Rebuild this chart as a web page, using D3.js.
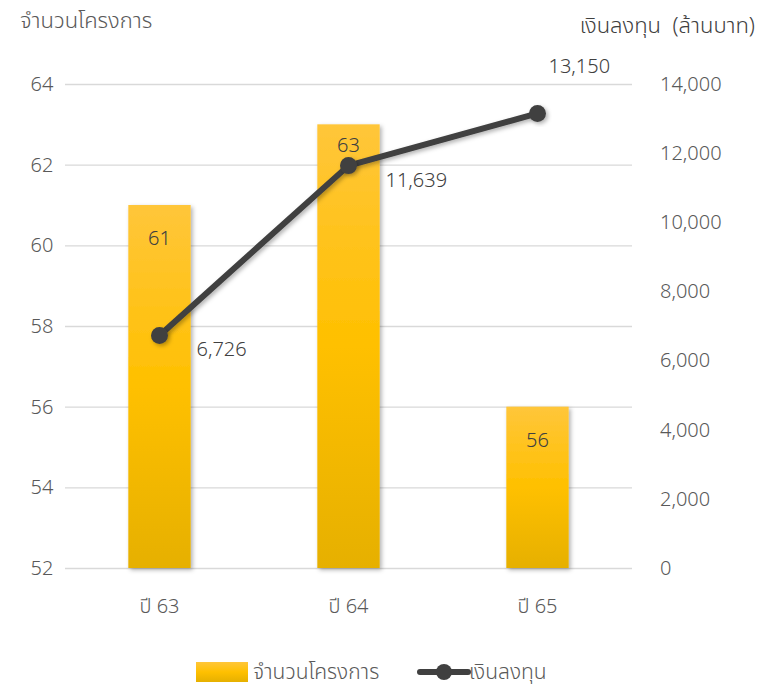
<!DOCTYPE html>
<html>
<head>
<meta charset="utf-8">
<script src="https://cdn.jsdelivr.net/npm/d3@7"></script>
<style>
  body { margin: 0; background: #fff; }
  text { font-family: "Noto Sans Thai", "Leelawadee UI", "Noto Sans", sans-serif; fill: #595959; font-weight: 300; }
</style>
</head>
<body>
<svg id="chart" width="760" height="687"></svg>
<script>
// chart data
var categories = ["ปี 63", "ปี 64", "ปี 65"],
    projects = [61, 63, 56],
    investment = [6726, 11639, 13150],
    leftTicks = [52, 54, 56, 58, 60, 62, 64],
    rightTicks = [0, 2000, 4000, 6000, 8000, 10000, 12000, 14000]
;

var svg = d3.select("#chart"),
    plotLeft = 65, plotRight = 632, plotTop = 84, plotBottom = 568,
    x = d3.scaleBand().domain(categories).range([plotLeft, plotRight]).paddingInner(0.67).paddingOuter(0.335),
    yL = d3.scaleLinear().domain([52, 64]).range([plotBottom, plotTop]),
    yR = d3.scaleLinear().domain([0, 14000]).range([plotBottom, plotTop]),
    fmt = d3.format(",")
;

var defs = svg.append("defs");
var grad = defs.append("linearGradient").attr("id", "barGrad")
    .attr("x1", 0).attr("y1", 0).attr("x2", 0).attr("y2", 1);
grad.append("stop").attr("offset", "0%").attr("stop-color", "#FFC63A");
grad.append("stop").attr("offset", "50%").attr("stop-color", "#FFC000");
grad.append("stop").attr("offset", "100%").attr("stop-color", "#E6B000");

var shadow = defs.append("filter").attr("id", "shadow")
    .attr("x", "-30%").attr("y", "-30%").attr("width", "160%").attr("height", "160%");
shadow.append("feDropShadow").attr("dx", 2).attr("dy", 2).attr("stdDeviation", 2)
    .attr("flood-color", "#000").attr("flood-opacity", 0.3);

// gridlines
svg.append("g")
    .attr("transform", "translate(" + plotLeft + ",0)")
    .call(d3.axisLeft(yL).tickValues(leftTicks).tickSize(-(plotRight - plotLeft)).tickFormat(""))
    .call(g => g.select(".domain").remove())
    .call(g => g.selectAll("line").attr("stroke", "#d9d9d9").attr("stroke-width", 1.3));

// left axis labels
svg.append("g")
    .attr("transform", "translate(" + plotLeft + ",0)")
    .call(d3.axisLeft(yL).tickValues(leftTicks).tickSize(0).tickPadding(31))
    .call(g => g.select(".domain").remove())
    .call(g => g.selectAll("text").style("font-size", "20px").attr("text-anchor", "middle").attr("dx", "8"));

// right axis labels
svg.append("g")
    .attr("transform", "translate(" + plotRight + ",0)")
    .call(d3.axisRight(yR).tickValues(rightTicks).tickSize(0).tickPadding(28).tickFormat(fmt))
    .call(g => g.select(".domain").remove())
    .call(g => g.selectAll("text").style("font-size", "20px"));

// category axis
svg.append("g")
    .attr("transform", "translate(0," + plotBottom + ")")
    .call(d3.axisBottom(x).tickSize(0).tickPadding(31))
    .call(g => g.select(".domain").remove())
    .call(g => g.selectAll("text").style("font-size", "20px"));

// axis titles
svg.append("text").attr("x", 20).attr("y", 28).style("font-size", "22px").text("จำนวนโครงการ");
svg.append("text").attr("x", 755).attr("y", 33).attr("text-anchor", "end")
    .style("font-size", "22px").style("fill", "#404040").style("white-space", "pre")
    .text("เงินลงทุน  (ล้านบาท)");

// bars
svg.selectAll(".bar")
    .data(projects)
    .enter().append("rect")
    .attr("class", "bar")
    .attr("x", (d, i) => x(categories[i]))
    .attr("y", d => yL(d))
    .attr("width", x.bandwidth())
    .attr("height", d => plotBottom - yL(d))
    .attr("fill", "url(#barGrad)")
    .attr("filter", "url(#shadow)");

// bar label goes inside the top, unless the line point is in the way
function barLabelY(d, i) {
    var ly = yL(d) + 40, py = yR(investment[i]);
    return Math.abs(ly - py) < 20 ? py - 14 : ly;
}

svg.selectAll(".barLabel")
    .data(projects)
    .enter().append("text")
    .attr("x", (d, i) => x(categories[i]) + x.bandwidth() / 2)
    .attr("y", barLabelY)
    .attr("text-anchor", "middle")
    .style("font-size", "20px")
    .style("fill", "#404040")
    .text(d => d);

// investment line
var cx = (d, i) => x(categories[i]) + x.bandwidth() / 2;
var line = d3.line().x(cx).y(d => yR(d));

svg.append("path")
    .datum(investment)
    .attr("d", line)
    .attr("fill", "none")
    .attr("stroke", "#404040")
    .attr("stroke-width", 6)
    .attr("stroke-linejoin", "round")
    .attr("filter", "url(#shadow)");

svg.selectAll(".dot")
    .data(investment)
    .enter().append("circle")
    .attr("cx", cx)
    .attr("cy", d => yR(d))
    .attr("r", 8.5)
    .attr("fill", "#404040")
    .attr("filter", "url(#shadow)");

// last label sits above the point, the others to the lower right
svg.selectAll(".lineLabel")
    .data(investment)
    .enter().append("text")
    .attr("x", (d, i) => cx(d, i) + (i == investment.length - 1 ? 11 : 37))
    .attr("y", (d, i) => yR(d) + (i == investment.length - 1 ? -40 : 21))
    .style("font-size", "20px")
    .style("fill", "#404040")
    .text(d => fmt(d));

// legend
var legend = svg.append("g").attr("transform", "translate(0,672)");
legend.append("rect").attr("x", 196).attr("y", -10).attr("width", 52).attr("height", 20).attr("fill", "url(#barGrad)");
legend.append("text").attr("x", 253).attr("y", 7).style("font-size", "21px").text("จำนวนโครงการ");
legend.append("line").attr("x1", 420).attr("x2", 468).attr("y1", 0).attr("y2", 0)
    .attr("stroke", "#404040").attr("stroke-width", 6).attr("stroke-linecap", "round");
legend.append("circle").attr("cx", 444).attr("cy", 0).attr("r", 8).attr("fill", "#404040");
legend.append("text").attr("x", 469).attr("y", 7).style("font-size", "21px").text("เงินลงทุน");
</script>
</body>
</html>
